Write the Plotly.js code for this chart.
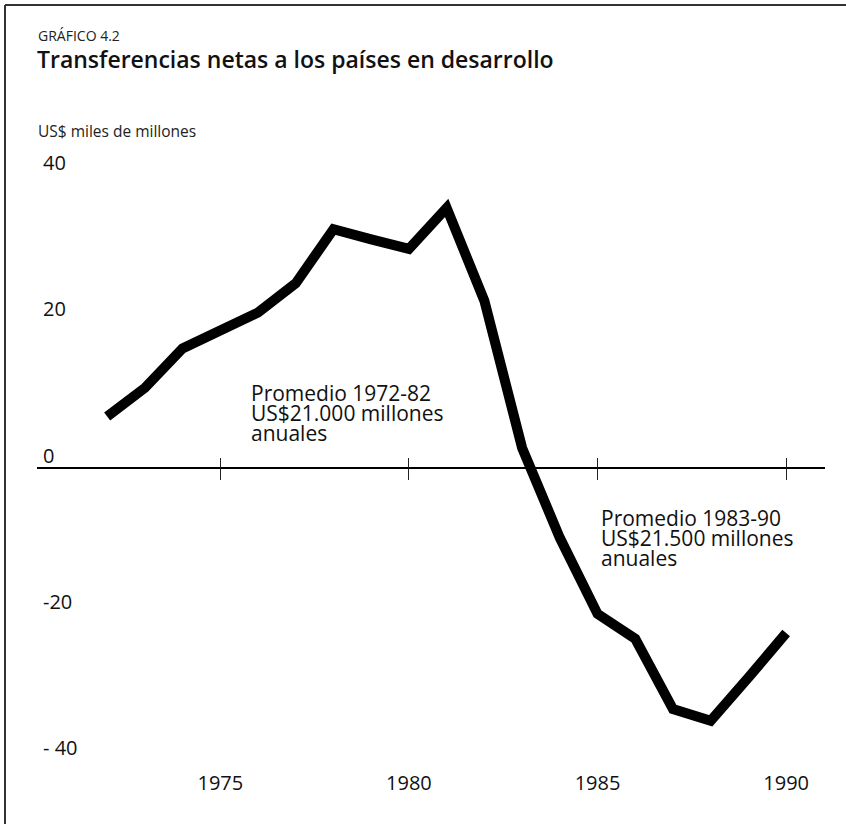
<!DOCTYPE html>
<html>
<head>
<meta charset="utf-8">
<script src="https://cdn.plot.ly/plotly-3.0.1.min.js"></script>
<style>html,body{margin:0;padding:0;background:#fff;}#chart{width:846px;height:824px;}</style>
</head>
<body>
<div id="chart"></div>
<script>
// ---- data ----
const years = [1972,1973,1974,1975,1976,1977,1978,1979,1980,1981,1982,1983,1984,1985,1986,1987,1988,1989,1990];
const transfers = [7.0,10.9,16.3,18.8,21.2,25.2,32.6,31.2,29.9,35.5,22.8,2.7,-9.6,-20.0,-23.4,-33.0,-34.6,-28.7,-22.6];
const xTickVals = [1975,1980,1985,1990];
const xTickText = ['1975','1980','1985','1990'];
const yTickVals = [-40,-20,0,20,40];
const yTickText = ['- 40','-20','0','20','40'];
const kicker = 'GRÁFICO 4.2';
const titleText = 'Transferencias netas a los países en desarrollo';
const unitText = 'US$ miles de millones';
const note1 = ['Promedio 1972-82','US$21.000 millones','anuales'];
const note2 = ['Promedio 1983-90','US$21.500 millones','anuales'];

// ---- layout ----
const FONT = 'Open Sans, Noto Sans, sans-serif';
const PXU = 7.313;                 // pixels per unit on the y axis
const xRange = [1970.14, 1991.03];
const yRange = [-41.2, 44.1];
const zeroPos = (0 - yRange[0]) / (yRange[1] - yRange[0]);
const W = 846, H = 824;
const L = 37, R = 21, T = 145;
const plotH = (yRange[1] - yRange[0]) * PXU;
const B = H - T - plotH;
const plotW = W - L - R;
const px2paperX = p => (p - L) / plotW;
const px2paperY = p => (H - B - p) / plotH;

const traces = [
  {x: years, y: transfers, type: 'scatter', mode: 'lines',
   line: {color: '#000', width: 10}, hoverinfo: 'skip', showlegend: false},
  {x: years, y: transfers, xaxis: 'x2', type: 'scatter', mode: 'lines',
   line: {color: 'rgba(0,0,0,0)', width: 0}, hoverinfo: 'skip', showlegend: false},
  {x: years, y: transfers, xaxis: 'x3', type: 'scatter', mode: 'lines',
   line: {color: 'rgba(0,0,0,0)', width: 0}, hoverinfo: 'skip', showlegend: false}
];

function noteAnns(lines, xv, yTopPx) {
  return lines.map((t, i) => ({
    text: t, xref: 'x', yref: 'paper', x: xv,
    y: px2paperY(yTopPx + i * 19.8), xanchor: 'left', yanchor: 'top',
    showarrow: false, font: {family: FONT, size: 21, color: '#111'}
  }));
}

const layout = {
  width: W, height: H,
  margin: {l: L, r: R, t: T, b: B},
  paper_bgcolor: '#fff', plot_bgcolor: '#fff',
  showlegend: false,
  title: {text: titleText, xref: 'container', yref: 'container',
          x: 37 / W, y: 1 - 60 / H, xanchor: 'left', yanchor: 'middle',
          font: {family: FONT, size: 23, weight: 600, color: '#111'}},
  xaxis: {range: xRange, showgrid: false, zeroline: false, showline: false,
          ticks: '', tickvals: xTickVals, ticktext: xTickText, ticklabelstandoff: 0,
          tickfont: {family: FONT, size: 20, color: '#111'}, fixedrange: true},
  xaxis2: {range: xRange, matches: 'x', overlaying: 'x', anchor: 'free', position: zeroPos,
           showgrid: false, zeroline: false, showline: false, showticklabels: false,
           ticks: 'inside', ticklen: 10, tickwidth: 1, tickcolor: '#222', tickvals: xTickVals},
  xaxis3: {range: xRange, matches: 'x', overlaying: 'x', anchor: 'free', position: zeroPos,
           showgrid: false, zeroline: false, showline: false, showticklabels: false,
           ticks: 'outside', ticklen: 11, tickwidth: 1, tickcolor: '#222', tickvals: xTickVals},
  yaxis: {range: yRange, showgrid: false, zeroline: true, zerolinecolor: '#000', zerolinewidth: 2,
          showline: false, ticks: '', tickvals: yTickVals, ticktext: yTickText,
          ticklabelposition: 'inside', ticklabelstandoff: 3, ticklabelshift: -12,
          tickfont: {family: FONT, size: 20, color: '#111'}, fixedrange: true},
  annotations: [
    {text: kicker, xref: 'paper', yref: 'paper', x: px2paperX(36), y: px2paperY(36),
     xanchor: 'left', yanchor: 'middle', showarrow: false,
     font: {family: FONT, size: 14, color: '#222'}},
    {text: unitText, xref: 'paper', yref: 'paper', x: px2paperX(36), y: px2paperY(131),
     xanchor: 'left', yanchor: 'middle', showarrow: false,
     font: {family: FONT, size: 15.5, color: '#222'}},
    ...noteAnns(note1, 1975.76, 377),
    ...noteAnns(note2, 1985.04, 502)
  ],
  shapes: [
    {type: 'line', xref: 'paper', yref: 'paper', x0: px2paperX(5), x1: px2paperX(5),
     y0: px2paperY(5), y1: px2paperY(824), line: {color: '#333', width: 2}},
    {type: 'line', xref: 'paper', yref: 'paper', x0: px2paperX(5), x1: px2paperX(846),
     y0: px2paperY(5), y1: px2paperY(5), line: {color: '#333', width: 2}}
  ]
};

Plotly.newPlot('chart', traces, layout, {staticPlot: true, displayModeBar: false});
</script>
</body>
</html>
